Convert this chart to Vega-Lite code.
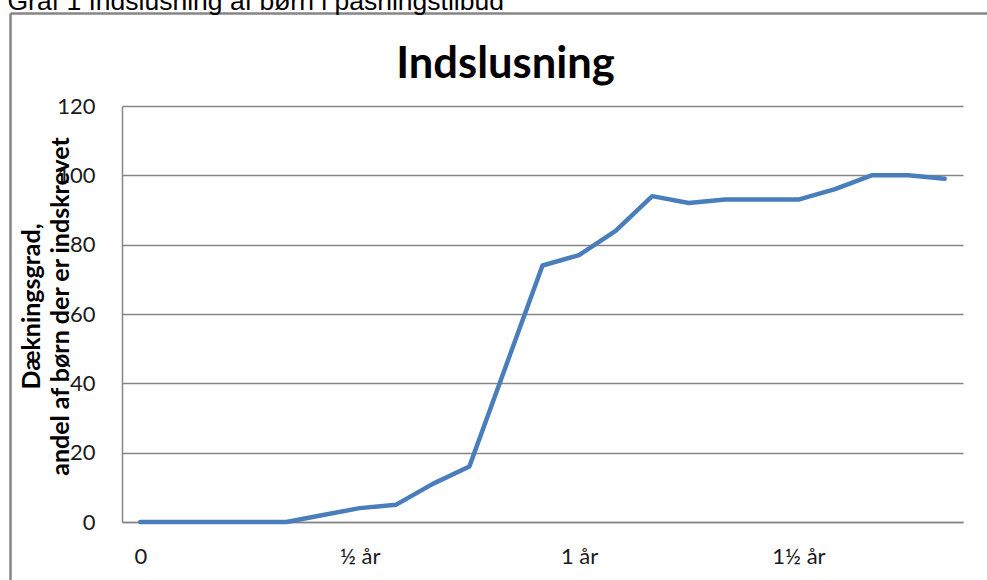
{
  "$schema": "https://vega.github.io/schema/vega-lite/v6.json",
  "width": 841,
  "height": 416,
  "autosize": {"type": "none"},
  "padding": {"left": 122, "top": 106, "right": 24, "bottom": 58},
  "background": "white",
  "config": {"view": {"stroke": null}, "font": "Lato"},
  "layer": [
    {
      "data": {
        "values": [
          {"month": 0, "pct": 0},
          {"month": 1, "pct": 0},
          {"month": 2, "pct": 0},
          {"month": 3, "pct": 0},
          {"month": 4, "pct": 0},
          {"month": 5, "pct": 2},
          {"month": 6, "pct": 4},
          {"month": 7, "pct": 5},
          {"month": 8, "pct": 11},
          {"month": 9, "pct": 16},
          {"month": 10, "pct": 45},
          {"month": 11, "pct": 74},
          {"month": 12, "pct": 77},
          {"month": 13, "pct": 84},
          {"month": 14, "pct": 94},
          {"month": 15, "pct": 92},
          {"month": 16, "pct": 93},
          {"month": 17, "pct": 93},
          {"month": 18, "pct": 93},
          {"month": 19, "pct": 96},
          {"month": 20, "pct": 100},
          {"month": 21, "pct": 100},
          {"month": 22, "pct": 99}
        ]
      },
      "mark": {"type": "line", "color": "#4A7EBB", "strokeWidth": 4.5, "strokeJoin": "round", "strokeCap": "round"},
      "encoding": {
        "x": {
          "field": "month",
          "type": "quantitative",
          "scale": {"domain": [-0.5, 22.5], "nice": false, "zero": false},
          "axis": {
            "values": [0, 6, 12, 18],
            "labelExpr": "datum.value == 0 ? '0' : datum.value == 6 ? '½ år' : datum.value == 12 ? '1 år' : '1½ år'",
            "grid": false,
            "ticks": false,
            "domain": true,
            "domainColor": "#868686",
            "domainWidth": 1.5,
            "labelFont": "Lato",
            "labelFontSize": 22,
            "labelColor": "#1a1a1a",
            "labelPadding": 24,
            "labelBaseline": "top",
            "labelFlush": false,
            "labelOverlap": false,
            "title": null
          }
        },
        "y": {
          "field": "pct",
          "type": "quantitative",
          "scale": {"domain": [0, 120], "nice": false},
          "axis": {
            "values": [0, 20, 40, 60, 80, 100, 120],
            "grid": true,
            "gridColor": "#868686",
            "gridWidth": 1.5,
            "ticks": false,
            "domain": true,
            "domainColor": "#868686",
            "domainWidth": 1.5,
            "labelFont": "Lato",
            "labelFontSize": 22,
            "labelColor": "#1a1a1a",
            "labelPadding": 27,
            "labelOverlap": false,
            "title": ["Dækningsgrad,", "andel af børn der er indskrevet"],
            "titleFont": "Lato",
            "titleFontSize": 25,
            "titleFontWeight": "bold",
            "titleColor": "#000000",
            "titleAngle": -90,
            "titleX": -83,
            "titleY": 200,
            "titleAlign": "center",
            "titleBaseline": "alphabetic",
            "titleLineHeight": 29
          }
        }
      }
    },
    {
      "data": {"values": [{"a": 0, "b": 0}]},
      "mark": {"type": "point", "opacity": 0},
      "encoding": {
        "x": {
          "field": "a",
          "type": "quantitative",
          "scale": {"domain": [0, 1], "range": [-112, 865]},
          "axis": {
            "orient": "top",
            "offset": 93,
            "labels": false,
            "ticks": false,
            "grid": false,
            "domainColor": "#868686",
            "domainWidth": 2.5,
            "title": "Graf 1 Indslusning af børn i pasningstilbud",
            "titleFont": "Liberation Sans",
            "titleFontSize": 26.5,
            "titleFontWeight": "normal",
            "titleColor": "#000000",
            "titleAnchor": "start",
            "titleAlign": "left",
            "titleX": -115,
            "titleY": -4,
            "titleBaseline": "alphabetic"
          }
        },
        "y": {
          "field": "b",
          "type": "quantitative",
          "scale": {"domain": [0, 1], "range": [474, -93]},
          "axis": {
            "orient": "left",
            "offset": 112,
            "labels": false,
            "ticks": false,
            "grid": false,
            "domainColor": "#868686",
            "domainWidth": 2.5,
            "title": "Indslusning",
            "titleFont": "Lato",
            "titleFontSize": 43.5,
            "titleFontWeight": "bold",
            "titleColor": "#000000",
            "titleAngle": 0,
            "titleX": 495,
            "titleY": -29,
            "titleAlign": "center",
            "titleBaseline": "alphabetic"
          }
        }
      }
    }
  ],
  "resolve": {
    "scale": {"x": "independent", "y": "independent"},
    "axis": {"x": "independent", "y": "independent"}
  }
}
